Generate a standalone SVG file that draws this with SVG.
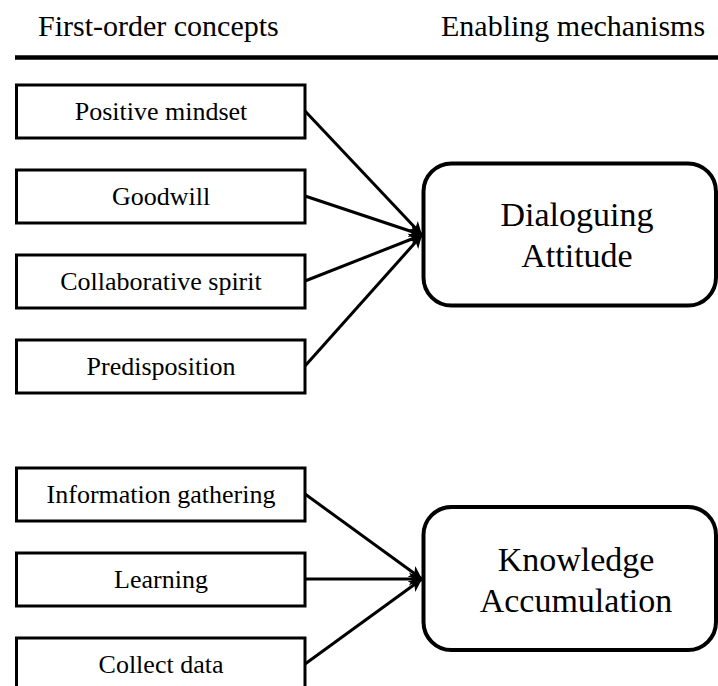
<svg xmlns="http://www.w3.org/2000/svg" width="718" height="686" viewBox="0 0 718 686">
<style>
.hdr{font-family:"Liberation Serif","Times New Roman",serif;font-size:30px;fill:#000}
.lbl{font-family:"Liberation Serif","Times New Roman",serif;font-size:26px;fill:#000;text-anchor:middle}
.big{font-family:"Liberation Serif","Times New Roman",serif;font-size:34px;fill:#000;text-anchor:middle}
.box{fill:#fff;stroke:#000;stroke-width:3}
.mech{fill:#fff;stroke:#000;stroke-width:4}
.conn{fill:none;stroke:#000;stroke-width:3;marker-end:url(#arr)}
</style>
<defs>
<marker id="arr" markerUnits="userSpaceOnUse" markerWidth="14" markerHeight="14" refX="13" refY="7" orient="auto">
<path d="M0,0.5 L13,7 L0,13.5 L3.5,7 z" fill="#000"/>
</marker>
</defs>
<rect width="718" height="686" fill="#fff"/>
<g id="header">
<text class="hdr" x="38" y="36">First-order concepts</text>
<text class="hdr" x="441" y="36">Enabling mechanisms</text>
<line x1="15" y1="57.5" x2="718" y2="57.5" stroke="#000" stroke-width="4.5"/>
</g>
<g id="connectors">
<line class="conn" x1="305" y1="111" x2="422" y2="235"/>
<line class="conn" x1="305" y1="196" x2="422" y2="235"/>
<line class="conn" x1="305" y1="281" x2="422" y2="235"/>
<line class="conn" x1="305" y1="366" x2="422" y2="235"/>
<line class="conn" x1="305" y1="494" x2="422" y2="579"/>
<line class="conn" x1="305" y1="579" x2="422" y2="579"/>
<line class="conn" x1="305" y1="664" x2="422" y2="579"/>
</g>
<g id="n-positive-mindset"><rect class="box" x="16.5" y="85" width="288.5" height="53"/><text class="lbl" x="161" y="120">Positive mindset</text></g>
<g id="n-goodwill"><rect class="box" x="16.5" y="170" width="288.5" height="53"/><text class="lbl" x="161" y="205">Goodwill</text></g>
<g id="n-collaborative-spirit"><rect class="box" x="16.5" y="255" width="288.5" height="53"/><text class="lbl" x="161" y="290">Collaborative spirit</text></g>
<g id="n-predisposition"><rect class="box" x="16.5" y="340" width="288.5" height="53"/><text class="lbl" x="161" y="375">Predisposition</text></g>
<g id="n-dialoguing-attitude"><rect class="mech" x="423.5" y="163.5" width="292.5" height="142" rx="28" ry="28"/><text class="big" x="577" y="226">Dialoguing</text><text class="big" x="577" y="267">Attitude</text></g>
<g id="n-information-gathering"><rect class="box" x="16.5" y="468" width="288.5" height="53"/><text class="lbl" x="161" y="503">Information gathering</text></g>
<g id="n-learning"><rect class="box" x="16.5" y="553" width="288.5" height="53"/><text class="lbl" x="161" y="588">Learning</text></g>
<g id="n-collect-data"><rect class="box" x="16.5" y="638" width="288.5" height="53"/><text class="lbl" x="161" y="673">Collect data</text></g>
<g id="n-knowledge-accumulation"><rect class="mech" x="423.5" y="507" width="292.5" height="143" rx="28" ry="28"/><text class="big" x="576" y="571">Knowledge</text><text class="big" x="576" y="612">Accumulation</text></g>
</svg>
